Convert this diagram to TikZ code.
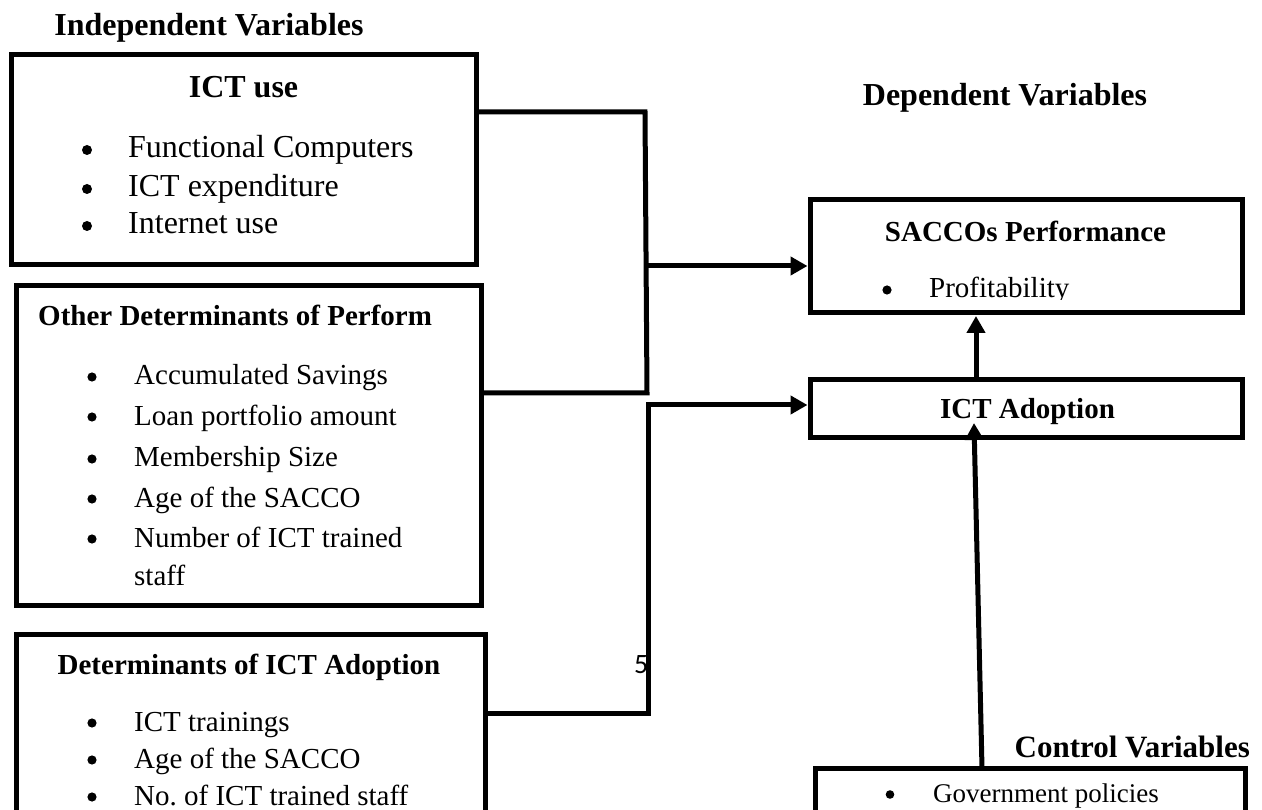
\documentclass[tikz,border=0pt]{standalone}
\usepackage{fontspec}
\setmainfont{Liberation Serif}
\newfontfamily\digitfont{Carlito}
\usetikzlibrary{arrows.meta,calc}
\begin{document}
\begin{tikzpicture}[x=1pt,y=-1pt,
  box/.style={draw, line width=5pt, inner sep=0pt, outer sep=0pt, anchor=north west},
  conn/.style={line width=5pt},
  arr/.style={conn, -{Triangle[width=18pt,length=17pt]}},
  ttlA/.style={font=\bfseries\fontsize{32}{38}\selectfont, inner sep=0pt, anchor=base},
  ttlB/.style={font=\bfseries\fontsize{29}{35}\selectfont, inner sep=0pt, anchor=base},
  ttlC/.style={font=\bfseries\fontsize{31}{37}\selectfont, inner sep=0pt, anchor=base east},
  itmA/.style={font=\fontsize{32}{38}\selectfont, inner sep=0pt, anchor=base west},
  itmB/.style={font=\fontsize{29}{35}\selectfont, inner sep=0pt, anchor=base west},
  itmC/.style={font=\fontsize{27}{32}\selectfont, inner sep=0pt, anchor=base west},
  digit/.style={font=\digitfont\fontsize{28}{32}\selectfont, inner sep=0pt, anchor=base west}]
\useasboundingbox (0,0) rectangle (1262,810);
\clip (0,0) rectangle (1262,810);

% boxes
\node[box, minimum width=465pt, minimum height=210pt] (ictuse) at (11,55) {};
\node[box, minimum width=465pt, minimum height=319pt] (other) at (16,286) {};
\node[box, minimum width=469pt, minimum height=206pt] (detict) at (16,634) {};
\node[box, minimum width=432pt, minimum height=113pt] (sacco) at (810,200) {};
\node[box, minimum width=432pt, minimum height=58pt] (adopt) at (810,380) {};
\node[box, minimum width=430pt, minimum height=72pt] (control) at (815,768) {};

% titles
\node[ttlA] (indep) at (209,36) {Independent Variables};
\node[ttlA] (ictuset) at (243.5,98) {ICT use};
\node[ttlA] (dep) at (1005,106) {Dependent Variables};
\node[ttlB, anchor=base west] (othert) at (38,326) {Other Determinants of Perform};
\node[ttlB] (dett) at (249,674) {Determinants of ICT Adoption};
\node[ttlB] (saccot) at (1025.5,242) {SACCOs Performance};
\node[ttlB] (adoptt) at (1027.5,419) {ICT Adoption};
\node[ttlC] (ctrlt) at (1250,757) {Control Variables};

% ICT use items
\node[itmA] (i1) at (128,158) {Functional Computers};
\node[itmA] (i2) at (128,197) {ICT expenditure};
\node[itmA] (i3) at (128,234) {Internet use};
\foreach \n in {i1,i2,i3} \fill ($(\n.base west)+(-41,-8)$) circle (5);

% Other determinants items
\node[itmB] (o1) at (134,385) {Accumulated Savings};
\node[itmB] (o2) at (134,425) {Loan portfolio amount};
\node[itmB] (o3) at (134,467) {Membership Size};
\node[itmB] (o4) at (134,507) {Age of the SACCO};
\node[itmB] (o5) at (134,547) {Number of ICT trained};
\node[itmB] (o6) at (134,585) {staff};
\foreach \n in {o1,o2,o3,o4,o5} \fill ($(\n.base west)+(-42,-8)$) circle (4.6);

% Determinants of ICT adoption items
\node[itmB] (d1) at (134,731) {ICT trainings};
\node[itmB] (d2) at (134,768) {Age of the SACCO};
\node[itmB] (d3) at (134,805) {No.\ of ICT trained staff};
\foreach \n in {d1,d2,d3} \fill ($(\n.base west)+(-42,-8)$) circle (4.6);

% SACCOs performance item (clipped at the baseline)
\begin{scope}
\clip (812,202) rectangle (1240,300);
\node[itmB] (p1) at (929,298) {Profitability};
\fill ($(p1.base west)+(-42,-8)$) circle (4.6);
\end{scope}

% Control item
\node[itmC] (g1) at (933,802) {Government policies};
\fill ($(g1.base west)+(-43,-7.5)$) circle (4.3);

% stray page number
\node[digit] (five) at (634,673) {5};

% connectors
\coordinate (j1) at (645,112);
\coordinate (j2) at (647,393);
\draw[conn] (ictuse.east |- j1) -- (j1) -- (j2) -- (other.east |- j2);
\coordinate (j3) at (646,266);
\draw[arr] (j3) -- ($(j3 -| sacco.west)+(-2.5,0)$);
\coordinate (j5) at (648,713);
\coordinate (j6) at (648,405);
\draw[arr] (detict.east |- j5) -- (j5) -- (j6) -- ($(j6 -| adopt.west)+(-2.5,0)$);
\coordinate (a1) at (976,0);
\draw[arr] (adopt.north -| a1) -- ($(sacco.south -| a1)+(0,3)$);
\coordinate (c1) at (982,0);
\coordinate (c2) at (974,423);
\draw[arr] (control.north -| c1) -- (c2);
\end{tikzpicture}
\end{document}
